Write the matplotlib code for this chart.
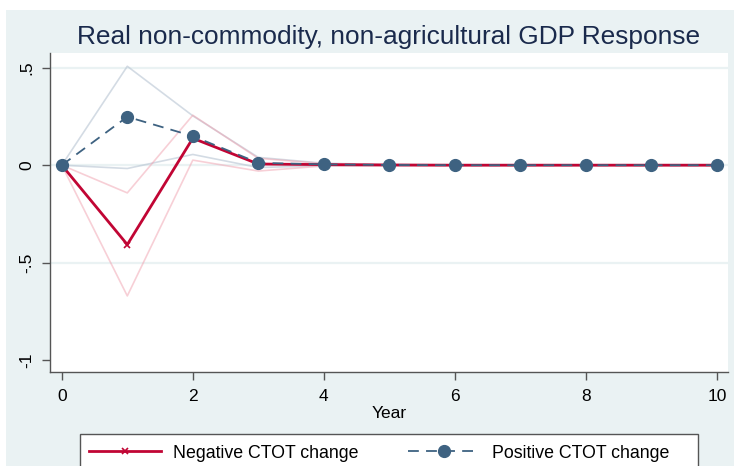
import matplotlib.pyplot as plt
from matplotlib.patches import Rectangle
from matplotlib.lines import Line2D

plt.rcParams['font.family'] = ['Liberation Sans', 'DejaVu Sans']

years = list(range(11))

# negative CTOT change: point estimate and band
neg_mid = [0, -0.407, 0.138, 0.006, 0.003, 0.001, 0, 0, 0, 0, 0]
neg_hi = [0, -0.142, 0.256, 0.035, 0.008, 0.002, 0.001, 0, 0, 0, 0]
neg_lo = [0, -0.670, 0.026, -0.030, -0.004, -0.002, -0.001, 0, 0, 0, 0]

# positive CTOT change: point estimate and band
pos_mid = [0, 0.248, 0.149, 0.012, 0.004, 0.001, 0, 0, 0, 0, 0]
pos_hi = [0, 0.507, 0.253, 0.040, 0.010, 0.003, 0.001, 0, 0, 0, 0]
pos_lo = [0, -0.017, 0.055, -0.012, -0.003, -0.001, 0, 0, 0, 0, 0]

yticks = [-1, -0.5, 0, 0.5]
ytick_labels = ['-1', '-.5', '0', '.5']
xticks = [0, 2, 4, 6, 8, 10]

RED = '#c10534'
BLUE = '#3e6281'
BG = '#eaf2f3'
W, H = 734, 466

fig = plt.figure(figsize=(W / 100, H / 100), dpi=100, facecolor='white')
fig.patches.append(Rectangle((6 / W, 0), 1, (H - 10) / H, transform=fig.transFigure,
                             facecolor=BG, edgecolor='none', zorder=-5))

ax = fig.add_axes([50 / W, 1 - 372 / H, (728 - 50) / W, (372 - 53) / H])
ax.set_zorder(1)
ax.set_facecolor('white')

for g in [-0.5, 0, 0.5]:
    ax.axhline(g, color=BG, lw=1.6, zorder=1)

# bands
ax.plot(years, pos_hi, color='#b7c4d2', lw=1.2, alpha=0.6, zorder=2)
ax.plot(years, pos_lo, color='#b7c4d2', lw=1.2, alpha=0.6, zorder=2)
ax.plot(years, neg_hi, color='#f0a0ae', lw=1.2, alpha=0.5, zorder=2)
ax.plot(years, neg_lo, color='#f0a0ae', lw=1.2, alpha=0.5, zorder=2)

ax.plot(years, neg_mid, color=RED, lw=2.0, marker='x', markersize=4, mew=1.2, zorder=3)
ax.plot(years, pos_mid, color=BLUE, lw=1.3, ls=(0, (6, 4)), marker='o', markersize=8.5,
        zorder=4)

ax.set_xlim(-0.18, 10.17)
ax.set_ylim(-1.06, 0.575)
ax.set_xticks(xticks)
ax.set_xticklabels([str(x) for x in xticks])
ax.set_yticks(yticks)
ax.set_yticklabels(ytick_labels, rotation=90, va='center')
ax.tick_params(axis='both', direction='out', length=6, width=1, color='#555555',
               labelsize=12.5, labelcolor='black')
ax.tick_params(axis='x', pad=6)
ax.tick_params(axis='y', pad=5)
for s in ['top', 'right']:
    ax.spines[s].set_visible(False)
for s in ['left', 'bottom']:
    ax.spines[s].set_color('#555555')
    ax.spines[s].set_linewidth(1.0)

ax.set_xlabel('Year', fontsize=12.5, labelpad=2)

fig.text(389 / W, 1 - 37 / H, 'Real non-commodity, non-agricultural GDP Response',
         ha='center', va='center', fontsize=18.9, color='#1a2a4c')

# legend box
fig.patches.append(Rectangle((80 / W, -0.05), (698 - 80) / W, 0.05 + (H - 434) / H,
                             transform=fig.transFigure, facecolor='white',
                             edgecolor='#555555', lw=1.0, zorder=5))
h_neg = Line2D([], [], color=RED, lw=2.0, marker='x', markersize=4, mew=1.2)
h_pos = Line2D([], [], color=BLUE, lw=1.3, ls=(0, (6, 4)), marker='o', markersize=8.5)
leg = fig.legend([h_neg, h_pos], ['Negative CTOT change', 'Positive CTOT change'],
                 loc='center left', bbox_to_anchor=(73 / W, 1 - 453 / H), ncol=2,
                 frameon=False, fontsize=12.8, handlelength=4.05, columnspacing=2.75,
                 handletextpad=0.7)
leg.set_zorder(6)

fig.savefig('out.png', dpi=100, facecolor='white')
